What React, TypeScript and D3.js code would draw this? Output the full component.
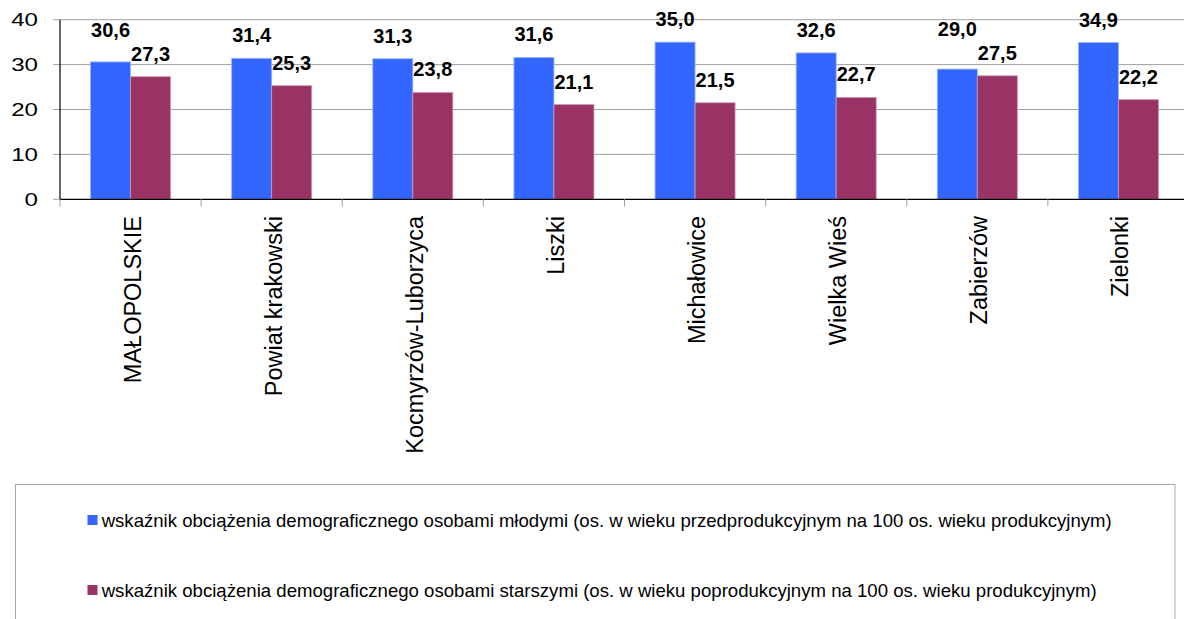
import React from "react";
import * as d3 from "d3";

const categories = [
  "MAŁOPOLSKIE",
  "Powiat krakowski",
  "Kocmyrzów-Luborzyca",
  "Liszki",
  "Michałowice",
  "Wielka Wieś",
  "Zabierzów",
  "Zielonki",
];
const youngValues = [30.6, 31.4, 31.3, 31.6, 35.0, 32.6, 29.0, 34.9];
const oldValues = [27.3, 25.3, 23.8, 21.1, 21.5, 22.7, 27.5, 22.2];
const yTicks = [0, 10, 20, 30, 40];
const seriesNames = [
  "wskaźnik obciążenia demograficznego osobami młodymi (os. w wieku przedprodukcyjnym na 100 os. wieku produkcyjnym)",
  "wskaźnik obciążenia demograficznego osobami starszymi (os. w wieku poprodukcyjnym na 100 os. wieku produkcyjnym)",
];
const seriesColors = ["#3366FF", "#993366"];
const seriesEdges = ["#99B3FF", "#CC99B3"];
const legendTextWidths = [1010, 995];

const W = 1184;
const H = 619;
const plot = { left: 60, right: 1189, top: 19.7, bottom: 199.3 };

export default function App() {
  const x = d3
    .scaleBand<string>()
    .domain(categories)
    .range([plot.left, plot.right])
    .paddingInner(0)
    .paddingOuter(0);
  const y = d3.scaleLinear().domain([0, 40]).range([plot.bottom, plot.top]);
  const bw = x.bandwidth();
  const barW = bw * 0.2835;
  const groupW = barW * 2;
  const series = [youngValues, oldValues];
  const font = "Liberation Sans, Arial, Helvetica, sans-serif";

  return (
    <svg
      width={W}
      height={H}
      style={{ position: "absolute", left: 0, top: 0, background: "#fff" }}
      fontFamily={font}
    >
      <rect x={0} y={0} width={W} height={H} fill="#fff" />
      {yTicks
        .filter((t) => t > 0)
        .map((t) => (
          <line
            key={"g" + t}
            x1={plot.left}
            x2={plot.right}
            y1={y(t)}
            y2={y(t)}
            stroke="#A0A0A0"
            strokeWidth={1}
          />
        ))}
      {yTicks.map((t) => (
        <g key={"yt" + t}>
          <line x1={53} x2={plot.left} y1={y(t)} y2={y(t)} stroke="#A0A0A0" />
          <text
            x={38}
            y={y(t) + 6.5}
            textAnchor="end"
            fontSize={18}
            fill="#000"
            textLength={String(t).length * 13.4}
            lengthAdjust="spacingAndGlyphs"
          >
            {t}
          </text>
        </g>
      ))}
      {categories.map((c, i) => {
        const cx = (x(c) as number) + bw / 2;
        const gx = cx - groupW / 2;
        const base = series.map((vals) => y(vals[i]) - 16);
        // avoid overlap: push first label up when too close to the second
        if (base[0] > base[1] - 15) base[0] = base[1] - 24;
        return (
          <g key={"b" + c}>
            {series.map((vals, s) => (
              <rect
                key={s}
                x={gx + s * barW}
                y={y(vals[i])}
                width={barW}
                height={y(0) - y(vals[i])}
                fill={seriesColors[s]}
                stroke={seriesEdges[s]}
                strokeWidth={0.8}
              />
            ))}
            {series.map((vals, s) => (
              <text
                key={"l" + s}
                x={gx + s * barW + barW / 2}
                y={base[s]}
                textAnchor="middle"
                fontSize={20}
                fontWeight="bold"
                fill="#000"
              >
                {vals[i].toFixed(1).replace(".", ",")}
              </text>
            ))}
          </g>
        );
      })}
      <line x1={plot.left} x2={plot.left} y1={plot.top} y2={plot.bottom} stroke="#000" strokeWidth={1.2} />
      <line x1={plot.left} x2={plot.right} y1={plot.bottom} y2={plot.bottom} stroke="#000" strokeWidth={1.2} />
      {categories.map((c) => (
        <line
          key={"xt" + c}
          x1={x(c) as number}
          x2={x(c) as number}
          y1={plot.bottom}
          y2={plot.bottom + 7}
          stroke="#A0A0A0"
        />
      ))}
      {categories.map((c) => {
        const cx = (x(c) as number) + bw / 2;
        return (
          <text
            key={"xl" + c}
            transform={`translate(${cx + 10},216) rotate(-90)`}
            textAnchor="end"
            fontSize={23.5}
            fill="#000"
          >
            {c}
          </text>
        );
      })}
      <rect x={15.5} y={484.5} width={1159.5} height={200} fill="none" stroke="#A8A8A8" strokeWidth={1} />
      {seriesNames.map((n, s) => (
        <g key={"lg" + s}>
          <rect x={87.5} y={515 + s * 70} width={10} height={10} fill={seriesColors[s]} />
          <text
            x={101.7}
            y={526.5 + s * 70}
            fontSize={18.5}
            fill="#000"
            textLength={legendTextWidths[s]}
            lengthAdjust="spacingAndGlyphs"
          >
            {n}
          </text>
        </g>
      ))}
    </svg>
  );
}
